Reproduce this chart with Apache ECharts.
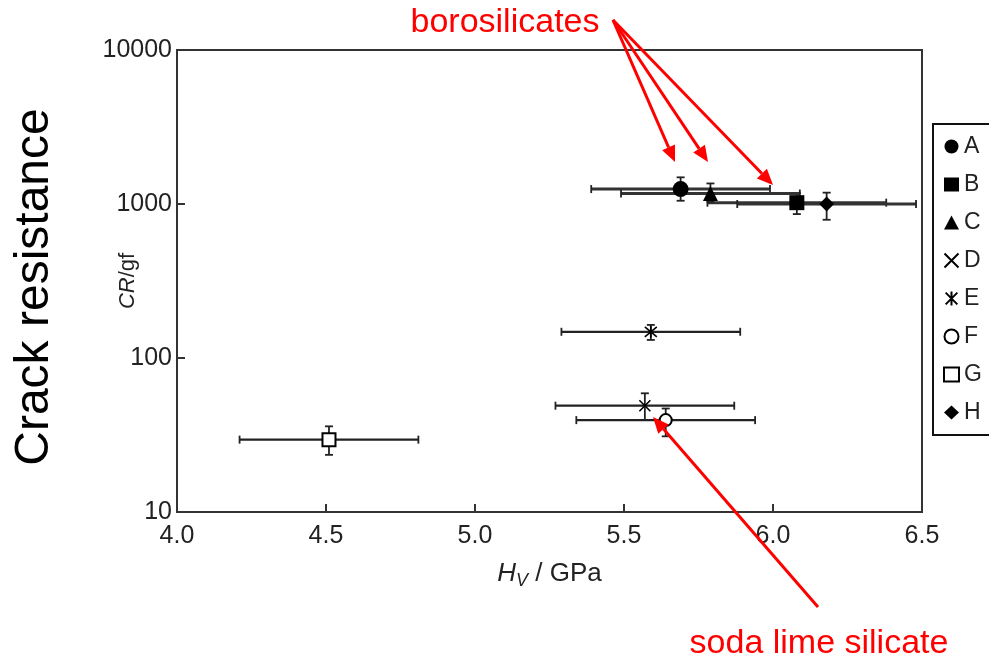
<!DOCTYPE html>
<html>
<head>
<meta charset="utf-8">
<script src="https://cdn.jsdelivr.net/npm/echarts@6/dist/echarts.min.js"></script>
<style>html,body{margin:0;padding:0;background:#fff;}#chart{width:989px;height:661px;}</style>
</head>
<body>
<div id="chart"></div>
<script>
// ---- data ----
const groups = ['A', 'B', 'C', 'D', 'E', 'F', 'G', 'H'];
const hv     = [5.69, 6.08, 5.79, 5.57, 5.59, 5.64, 4.51, 6.18];   // Hv / GPa
const hvErr  = [0.30, 0.30, 0.30, 0.30, 0.30, 0.30, 0.30, 0.30];
const cr     = [1250, 1020, 1170, 49, 148, 39.5, 29.5, 1000];      // CR / gf
const crLow  = [1050, 860, 1035, 39.5, 131, 31, 23.5, 790];
const crHigh = [1490, 1175, 1360, 59, 164, 47, 36, 1185];
const xTicks = [4.0, 4.5, 5.0, 5.5, 6.0, 6.5];
const yTicks = [10, 100, 1000, 10000];

const symbols = [
  'circle', 'rect', 'triangle',
  'path://M0,0L10,10M10,0L0,10',
  'path://M0,0L10,10M10,0L0,10M5,-1L5,11',
  'circle', 'rect', 'diamond'
];
const hollow = [false, false, false, false, false, true, true, false];
const sizes = [16, 15, 15, 11, 12, 12, 13, 15];

const chart = echarts.init(document.getElementById('chart'));
const FONT = '"Liberation Sans", Arial, sans-serif';

const scatterSeries = groups.map((g, i) => ({
  name: g,
  type: 'scatter',
  symbol: symbols[i],
  symbolSize: sizes[i],
  z: 5,
  itemStyle: {
    color: hollow[i] ? '#fff' : '#000',
    borderColor: '#000',
    borderWidth: (i === 3 || i === 4) ? 1.6 : (hollow[i] ? 2 : 0),
    opacity: 1
  },
  data: [[hv[i], cr[i]]]
}));

const errSeries = {
  type: 'custom',
  z: 3,
  silent: true,
  renderItem: function (params, api) {
    const x = api.value(0), y = api.value(1), xe = api.value(2), yl = api.value(3), yh = api.value(4);
    const pL = api.coord([x - xe, y]), pR = api.coord([x + xe, y]);
    const pT = api.coord([x, yh]), pB = api.coord([x, yl]);
    const big = y > 500;
    const c = 4, cv = 4;
    const st = { stroke: big ? '#333' : '#222', lineWidth: big ? 3 : 2.2 };
    const st2 = { stroke: '#222', lineWidth: 1.8 };
    return {
      type: 'group',
      children: [
        { type: 'line', shape: { x1: pL[0], y1: pL[1], x2: pR[0], y2: pR[1] }, style: st },
        { type: 'line', shape: { x1: pL[0], y1: pL[1] - cv, x2: pL[0], y2: pL[1] + cv }, style: st2 },
        { type: 'line', shape: { x1: pR[0], y1: pR[1] - cv, x2: pR[0], y2: pR[1] + cv }, style: st2 },
        { type: 'line', shape: { x1: pT[0], y1: pT[1], x2: pB[0], y2: pB[1] }, style: st2 },
        { type: 'line', shape: { x1: pT[0] - c, y1: pT[1], x2: pT[0] + c, y2: pT[1] }, style: st2 },
        { type: 'line', shape: { x1: pB[0] - c, y1: pB[1], x2: pB[0] + c, y2: pB[1] }, style: st2 }
      ]
    };
  },
  encode: { x: 0, y: 1 },
  data: groups.map((g, i) => [hv[i], cr[i], hvErr[i], crLow[i], crHigh[i]])
};

function arrow(x1, y1, x2, y2) {
  const a = Math.atan2(y2 - y1, x2 - x1);
  const L = 16, W = 7;
  const bx = x2 - L * Math.cos(a), by = y2 - L * Math.sin(a);
  const nx = -Math.sin(a), ny = Math.cos(a);
  return [
    { type: 'line', shape: { x1: x1, y1: y1, x2: bx, y2: by }, style: { stroke: '#f00', lineWidth: 3 }, z: 20 },
    { type: 'polygon', shape: { points: [[x2, y2], [bx + W * nx, by + W * ny], [bx - W * nx, by - W * ny]] }, style: { fill: '#f00' }, z: 20 }
  ];
}

const graphics = [
  { type: 'text', x: 35, y: 287, rotation: Math.PI / 2, z: 20,
    style: { text: 'Crack resistance', font: '48px ' + FONT, fill: '#000', align: 'center', verticalAlign: 'middle' } },
  { type: 'text', z: 20, x: 505, y: 23,
    style: { text: 'borosilicates', font: '34px ' + FONT, fill: '#f00', align: 'center', verticalAlign: 'middle' } },
  { type: 'text', z: 20, x: 819, y: 644,
    style: { text: 'soda lime silicate', font: '34px ' + FONT, fill: '#f00', align: 'center', verticalAlign: 'middle' } }
].concat(arrow(613, 20, 675, 162), arrow(613, 20, 708, 162), arrow(613, 20, 773, 185), arrow(818, 607, 653, 417));

chart.setOption({
  animation: false,
  backgroundColor: '#fff',
  textStyle: { fontFamily: FONT },
  grid: { left: 177, right: 67, top: 50, bottom: 149, show: true, borderColor: '#333', borderWidth: 2, backgroundColor: 'transparent' },
  xAxis: {
    type: 'value', min: xTicks[0], max: xTicks[xTicks.length - 1], interval: 0.5,
    name: '{i|H}{s|V}{n| / GPa}', nameLocation: 'middle', nameGap: 46, nameMoveOverlap: false,
    nameTextStyle: {
      rich: {
        i: { fontStyle: 'italic', fontSize: 26, color: '#222', fontFamily: FONT },
        s: { fontStyle: 'italic', fontSize: 18, color: '#222', fontFamily: FONT, verticalAlign: 'bottom', padding: [14, 0, 0, 0] },
        n: { fontSize: 26, color: '#222', fontFamily: FONT }
      }
    },
    axisLine: { show: true, onZero: false, lineStyle: { color: '#333', width: 2 } },
    axisTick: { show: true, inside: true, length: 8, lineStyle: { color: '#333', width: 2 } },
    axisLabel: { fontSize: 25, color: '#222', margin: 12, formatter: v => v.toFixed(1) },
    splitLine: { show: false }
  },
  yAxis: {
    type: 'log', logBase: 10, min: yTicks[0], max: yTicks[yTicks.length - 1],
    name: '{i|CR}{n|/gf}', nameLocation: 'middle', nameGap: 38, nameRotate: 90, nameMoveOverlap: false,
    nameTextStyle: {
      rich: {
        i: { fontStyle: 'italic', fontSize: 22, color: '#222', fontFamily: FONT },
        n: { fontSize: 22, color: '#222', fontFamily: FONT }
      }
    },
    axisLine: { show: true, lineStyle: { color: '#333', width: 2 } },
    axisTick: { show: true, inside: true, length: 8, lineStyle: { color: '#333', width: 2 } },
    axisLabel: { fontSize: 25, color: '#222', margin: 5, formatter: v => String(Math.round(v)) },
    minorTick: { show: false },
    splitLine: { show: false }
  },
  legend: {
    data: groups,
    orient: 'vertical',
    left: 933, top: 124,
    padding: [11, 24, 11, 10],
    itemGap: 15,
    itemWidth: 15, itemHeight: 14,
    borderColor: '#111', borderWidth: 2,
    textStyle: { fontSize: 23, lineHeight: 22, color: '#222', fontFamily: FONT },
    selectedMode: false
  },
  series: [errSeries].concat(scatterSeries),
  graphic: graphics
});
</script>
</body>
</html>
